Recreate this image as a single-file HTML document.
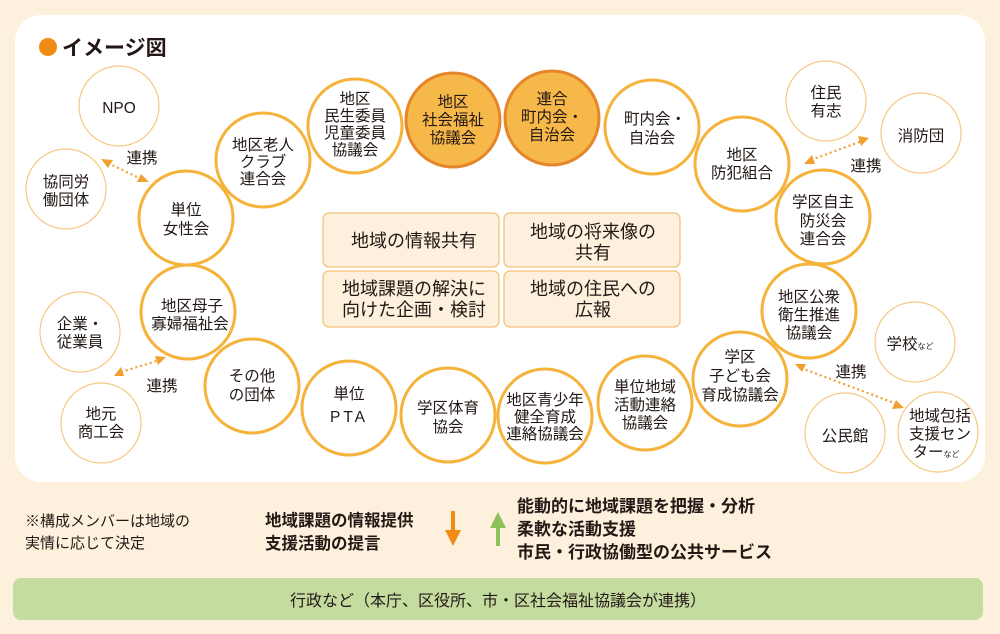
<!DOCTYPE html>
<html><head><meta charset="utf-8"><style>
body{margin:0;background:#fdf0dc;}
svg{display:block;font-family:"Liberation Sans","Noto Sans CJK JP",sans-serif;}
.t{font-size:15.5px;fill:#231815;text-anchor:middle;}
.b{font-size:18px;fill:#231815;text-anchor:middle;}
.k{stroke:#f5b33c;stroke-width:3;fill:#fff;}
.n{stroke:#f7c883;stroke-width:1.2;fill:#fff;}
.f{stroke:#e5862a;stroke-width:3;fill:#f7b84a;}
.d{stroke:#f0a030;stroke-width:2.2;stroke-dasharray:2 3;fill:none;}
.h{fill:#f0a030;}
</style></head><body>
<svg width="1000" height="634" viewBox="0 0 1000 634">
<rect x="15" y="15" width="970" height="467" rx="26" fill="#fff"/>
<circle cx="48" cy="47" r="9" fill="#f08c14"/>
<text x="62" y="55" font-size="21" font-weight="bold" fill="#231815">イメージ図</text>

<!-- boxes -->
<g stroke="#f5c27a" stroke-width="1.3" fill="#fdf0dc">
<rect x="323" y="213" width="176" height="54" rx="6"/>
<rect x="504" y="213" width="176" height="54" rx="6"/>
<rect x="323" y="271" width="176" height="56" rx="6"/>
<rect x="504" y="271" width="176" height="56" rx="6"/>
</g>
<text class="b" x="414" y="247">地域の情報共有</text>
<text class="b" x="593" y="238">地域の将来像の</text><text class="b" x="593" y="259">共有</text>
<text class="b" x="414" y="295">地域課題の解決に</text><text class="b" x="414" y="316">向けた企画・検討</text>
<text class="b" x="593" y="295">地域の住民への</text><text class="b" x="593" y="316">広報</text>

<!-- circles -->
<circle class="n" cx="119" cy="106" r="40"/>
<circle class="n" cx="66" cy="189" r="40"/>
<circle class="k" cx="186" cy="218" r="47"/>
<circle class="k" cx="263" cy="160" r="47"/>
<circle class="k" cx="355" cy="126" r="47"/>
<circle class="f" cx="453" cy="120" r="47"/>
<circle class="f" cx="552" cy="118" r="47"/>
<circle class="k" cx="652" cy="127" r="47"/>
<circle class="k" cx="742" cy="164" r="47"/>
<circle class="n" cx="826" cy="101" r="40"/>
<circle class="n" cx="921" cy="133" r="40"/>
<circle class="k" cx="823" cy="217" r="47"/>
<circle class="k" cx="809" cy="311" r="47"/>
<circle class="n" cx="915" cy="342" r="40"/>
<circle class="k" cx="740" cy="379" r="47"/>
<circle class="n" cx="845" cy="433" r="40"/>
<circle class="n" cx="938" cy="432" r="40"/>
<circle class="k" cx="645" cy="403" r="47"/>
<circle class="k" cx="545" cy="416" r="47"/>
<circle class="k" cx="448" cy="415" r="47"/>
<circle class="k" cx="349" cy="408" r="47"/>
<circle class="k" cx="252" cy="386" r="47"/>
<circle class="k" cx="188" cy="312" r="47"/>
<circle class="n" cx="80" cy="332" r="40"/>
<circle class="n" cx="101" cy="423" r="40"/>

<text class="t" x="119" y="113">NPO</text>
<text class="t" x="66" y="187">協同労</text><text class="t" x="66" y="205">働団体</text>
<text class="t" x="186" y="215">単位</text><text class="t" x="186" y="234">女性会</text>
<text class="t" x="263" y="150">地区老人</text><text class="t" x="263" y="167">クラブ</text><text class="t" x="263" y="184">連合会</text>
<text class="t" x="355" y="104">地区</text><text class="t" x="355" y="121">民生委員</text><text class="t" x="355" y="138">児童委員</text><text class="t" x="355" y="155">協議会</text>
<text class="t" x="453" y="107">地区</text><text class="t" x="453" y="125">社会福祉</text><text class="t" x="453" y="143">協議会</text>
<text class="t" x="552" y="104">連合</text><text class="t" x="552" y="122">町内会・</text><text class="t" x="552" y="140">自治会</text>
<text class="t" x="655" y="124">町内会・</text><text class="t" x="652" y="143">自治会</text>
<text class="t" x="742" y="160">地区</text><text class="t" x="742" y="178">防犯組合</text>
<text class="t" x="826" y="98">住民</text><text class="t" x="826" y="116">有志</text>
<text class="t" x="921" y="141">消防団</text>
<text class="t" x="823" y="207">学区自主</text><text class="t" x="823" y="226">防災会</text><text class="t" x="823" y="244">連合会</text>
<text class="t" x="809" y="302">地区公衆</text><text class="t" x="809" y="320">衛生推進</text><text class="t" x="809" y="338">協議会</text>
<text class="t" x="910" y="349">学校<tspan font-size="8">など</tspan></text>
<text class="t" x="740" y="362">学区</text><text class="t" x="740" y="381">子ども会</text><text class="t" x="740" y="400">育成協議会</text>
<text class="t" x="845" y="441">公民館</text>
<text class="t" x="940" y="421">地域包括</text><text class="t" x="940" y="439">支援セン</text><text class="t" x="936" y="457">ター<tspan font-size="8">など</tspan></text>
<text class="t" x="645" y="392">単位地域</text><text class="t" x="645" y="410">活動連絡</text><text class="t" x="645" y="428">協議会</text>
<text class="t" x="545" y="405">地区青少年</text><text class="t" x="545" y="422">健全育成</text><text class="t" x="545" y="439">連絡協議会</text>
<text class="t" x="448" y="413">学区体育</text><text class="t" x="448" y="432">協会</text>
<text class="t" x="349" y="399">単位</text><text class="t" x="349" y="422" letter-spacing="3">PTA</text>
<text class="t" x="252" y="381">その他</text><text class="t" x="252" y="400">の団体</text>
<text class="t" x="192" y="311">地区母子</text><text class="t" x="190" y="329">寡婦福祉会</text>
<text class="t" x="80" y="329">企業・</text><text class="t" x="80" y="347">従業員</text>
<text class="t" x="101" y="419">地元</text><text class="t" x="101" y="437">商工会</text>

<!-- links -->
<line class="d" x1="108" y1="163" x2="141" y2="179"/>
<polygon class="h" points="101,159 113,160 108,168"/>
<polygon class="h" points="149,182 137,182 141,174"/>
<text class="t" x="142" y="163">連携</text>
<line class="d" x1="811" y1="160" x2="862" y2="141"/>
<polygon class="h" points="804,164 812,155 815,164"/>
<polygon class="h" points="869,138 858,136 861,146"/>
<text class="t" x="866" y="171">連携</text>
<line class="d" x1="121" y1="372" x2="160" y2="360"/>
<polygon class="h" points="114,376 121,367 124,376"/>
<polygon class="h" points="166,357 155,356 158,365"/>
<text class="t" x="162" y="391">連携</text>
<line class="d" x1="801" y1="368" x2="897" y2="404"/>
<polygon class="h" points="795,364 806,364 802,372"/>
<polygon class="h" points="904,408 892,409 896,400"/>
<text class="t" x="851" y="377">連携</text>

<!-- bottom -->
<text x="25" y="526" font-size="15" fill="#231815">※構成メンバーは地域の</text>
<text x="25" y="548" font-size="15" fill="#231815">実情に応じて決定</text>
<text x="265" y="526" font-size="16.5" font-weight="bold" fill="#231815">地域課題の情報提供</text>
<text x="265" y="549" font-size="16.5" font-weight="bold" fill="#231815">支援活動の提言</text>
<rect x="451" y="511" width="4" height="22" fill="#f08c14"/>
<polygon points="445,530 461,530 453,546" fill="#f08c14"/>
<rect x="496" y="526" width="4" height="20" fill="#8cc05a"/>
<polygon points="490,528 506,528 498,512" fill="#8cc05a"/>
<text x="517" y="512" font-size="17" font-weight="bold" fill="#231815">能動的に地域課題を把握・分析</text>
<text x="517" y="535" font-size="17" font-weight="bold" fill="#231815">柔軟な活動支援</text>
<text x="517" y="558" font-size="17" font-weight="bold" fill="#231815">市民・行政協働型の公共サービス</text>
<rect x="13" y="578" width="970" height="42" rx="8" fill="#c5dca0"/>
<text x="498" y="606" font-size="16" fill="#231815" text-anchor="middle">行政など（本庁、区役所、市・区社会福祉協議会が連携）</text>
</svg>
</body></html>
